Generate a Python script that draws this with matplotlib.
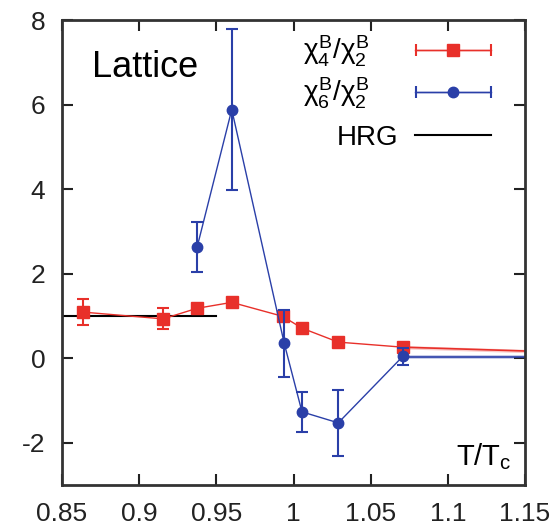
import numpy as np
import matplotlib.pyplot as plt
from matplotlib.legend_handler import HandlerErrorbar

plt.rcParams['font.family'] = ['Liberation Sans', 'DejaVu Sans']
plt.rcParams['mathtext.fontset'] = 'custom'
plt.rcParams['mathtext.rm'] = 'Liberation Sans'
plt.rcParams['mathtext.it'] = 'Liberation Sans'

# chi4/chi2 lattice data
t_r = [0.8636, 0.9155, 0.9375, 0.960, 0.993, 1.0055, 1.029, 1.071]
r42 = [1.09, 0.93, 1.18, 1.32, 0.99, 0.71, 0.38, 0.26]
r42_err = [0.30, 0.25, 0.05, 0.05, 0.05, 0.05, 0.04, 0.04]
t_r_tail = [1.071, 1.15]
r42_tail = [0.26, 0.17]

# chi6/chi2 lattice data
t_b = [0.9375, 0.960, 0.994, 1.0055, 1.029, 1.071]
r62 = [2.62, 5.88, 0.35, -1.27, -1.53, 0.05]
r62_err = [0.59, 1.90, 0.80, 0.47, 0.78, 0.20]
t_b_tail = [1.071, 1.15]
r62_tail = [0.03, 0.03]

# HRG value
t_hrg = [0.85, 0.95]
hrg = [1.0, 1.0]

red = '#e8302a'
blue = '#2a3fa8'

fig = plt.figure(figsize=(5.6, 5.26), dpi=100)
ax = fig.add_axes([62/560, 1 - 485/526, (525-62)/560, (485-20)/526])

ax.plot(t_r_tail, r42_tail, color=red, lw=1.2, zorder=2)
ax.fill_between(t_r_tail, np.array(r42_tail) - 0.04, np.array(r42_tail) + 0.04,
                color=red, alpha=0.25, lw=0)
ax.plot(t_b_tail, r62_tail, color=blue, lw=1.2, zorder=2)
ax.fill_between(t_b_tail, np.array(r62_tail) - 0.05, np.array(r62_tail) + 0.05,
                color=blue, alpha=0.25, lw=0)

ax.errorbar(t_r, r42, yerr=r42_err, color=red, marker='s', ms=9, lw=1,
            capsize=4, elinewidth=1.5, capthick=1.5, zorder=3)
ax.errorbar(t_b, r62, yerr=r62_err, color=blue, marker='o', ms=7.5, lw=1,
            capsize=4, elinewidth=1.5, capthick=1.5, zorder=4)
hl, = ax.plot(t_hrg, hrg, color='black', lw=1.5, label='HRG', zorder=2)

# legend proxies: horizontal error bars like the original key
p1 = ax.errorbar([np.nan], [np.nan], xerr=[1], color=red, marker='s', ms=9, lw=1,
                 capsize=4, capthick=1.5, label=r'$\chi_4^B/\chi_2^B$')
p2 = ax.errorbar([np.nan], [np.nan], xerr=[1], color=blue, marker='o', ms=7.5, lw=1,
                 capsize=4, capthick=1.5, label=r'$\chi_6^B/\chi_2^B$')

ax.set_xlim(0.85, 1.15)
ax.set_ylim(-3, 8)
ax.set_xticks([0.85, 0.9, 0.95, 1.0, 1.05, 1.1, 1.15])
ax.set_xticklabels(['0.85', '0.9', '0.95', '1', '1.05', '1.1', '1.15'])
ax.set_yticks([-2, 0, 2, 4, 6, 8])
ax.set_yticklabels(['-2', '0', '2', '4', '6', '8'])
ax.tick_params(direction='in', length=8, width=1.5, top=True, right=True,
               labelsize=19, colors='#222222')
ax.tick_params(axis='x', pad=12)
ax.tick_params(axis='y', pad=12)
for s in ax.spines.values():
    s.set_linewidth(2)
    s.set_color('#333333')

ax.text(0.8694, 6.64, 'Lattice', fontsize=26)
ax.text(1.1416, -2.53, r'T/T$_{\mathregular{c}}$', fontsize=21, ha='right')

handler = HandlerErrorbar(xerr_size=1.35)
leg = ax.legend(handles=[p1, p2], loc='upper right', frameon=False,
                markerfirst=False, handlelength=2.75, fontsize=20,
                handletextpad=1.6, labelspacing=0.25, borderpad=0, borderaxespad=0,
                bbox_to_anchor=(0.927, 0.971),
                handler_map={p1: handler, p2: handler})
ax.add_artist(leg)
ax.legend(handles=[hl], loc='center right', frameon=False, markerfirst=False,
          handlelength=2.75, fontsize=20, handletextpad=0.6, borderpad=0,
          borderaxespad=0, bbox_to_anchor=(0.927, 0.7465))

fig.savefig('out.png', dpi=100)
